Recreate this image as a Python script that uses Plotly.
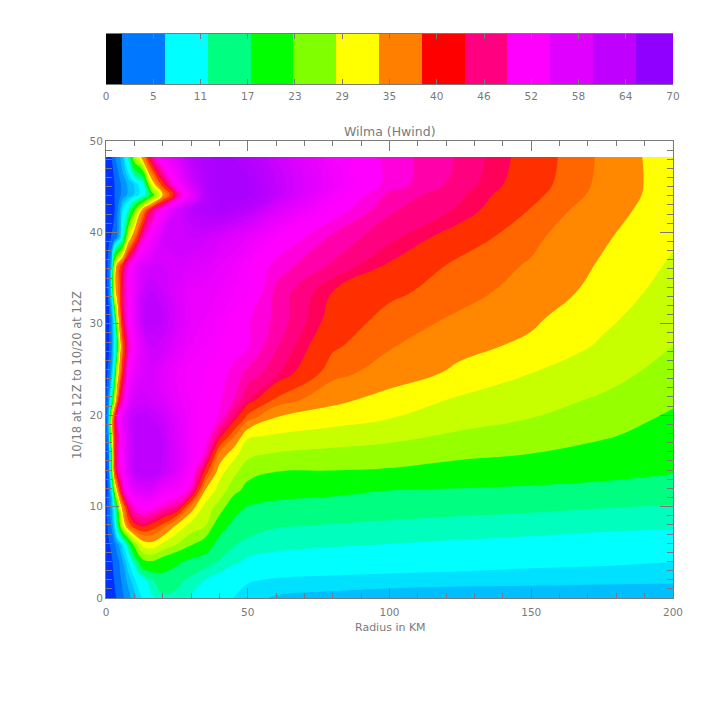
import plotly.graph_objects as go

# ---- data ----
radius = [0,1,2,3,4,5,6,8,10,13,16,20,25,30,35,40,45,50,60,80,100,125,150,175,200]
times = [0,1.97,3.94,5.91,7.88,9.85,11.8,13.8,15.8,17.7,19.7,21.7,24.6,27.6,30.5,33.5,36.4,39.4,42.4,44.1,45.3,48.25]

w00 = [2,2.3,2.7,3.2,3.7,4.3,5,6.3,8,11,13.5,15.2,15,13.8,12.6,11.5,10.5,9.4,8.5,8.1,7.9,7.8,7.8,7.7,7.7]
w02 = [2.2,2.6,3,3.6,4.2,5,5.8,7.8,10,13,15.5,17.3,16.5,15.2,14,13,12,10.8,10.2,9.8,9.5,9.3,9.2,9.1,9]
w04 = [2.5,2.9,3.3,4,4.7,5.6,7,10.5,15.5,23,24,22,20,18,16.7,15.5,14.4,13.6,13,12.6,12.3,11.8,11.2,10.9,10.5]
w06 = [2.8,3.3,3.9,5,6.3,8,10.5,18,26,33,34,31,28,25,22.5,17.5,16,15.1,14.7,14.3,14,13.7,13.4,13,12.8]
w08 = [3,4,5.5,9,16,24,31,39,43,44.5,43,40,34,30,28,21.5,18,17,15.9,15.6,15.3,15,14.8,14.5,14.3]
w10 = [3,4.5,7,12,21,31,37,46,50,52,51.5,49,46.5,36.5,30,26.5,21,18.8,18,17,16.7,16.4,16.1,15.8,15.4]
w12 = [3,4,9.5,25,35.5,43,48.5,54,56.5,58,58,55,54,49,35,30,26,23,21,20.5,19.3,18.8,18.3,17.8,17.3]
w14 = [3,4.5,19,40,47,50,53,58,61,62,62,60.5,57.5,53,43,33,29,26,24.5,24.3,24,23,22,20.8,19.5]
w16 = [3,5,20,41,48,51,54,59,61.5,62,62,61,58,54.5,50,38,33,29,27.8,27,26.4,25.3,24.5,23,20.9]
w18 = [3,7,30,42,47,51,55,59,61.5,62,62,61,57.5,54,52.5,45,39,32,31,30,29,27.3,26,24.9,22.9]
w20 = [3,8,31,43,50,54,56,60,61,61.5,61,60,57,54,52,50.5,45.3,40,34.8,33,31.6,29.5,28,26,24]
w22 = [3,6,15,28,39,46,49,57,59,59.5,59,58,55.5,54,52.5,51,49,45.5,40.5,36,33.6,31,29.5,27.5,25]
w25 = [3,4,7.5,15,31.5,38,44,53,56,58,58.5,57,55,53.5,53,52,50,48.5,46,39.5,37,34.2,31.5,29.5,26.5]
w28 = [3,3.2,5,11,19.5,33,41,49,54,58,60,59.5,57,55,54,53,52,51,47.5,41.5,38.8,36,34.3,31,28]
w31 = [3,3.2,6,12,30,39,45,52,56,61,62,61,58.5,56,55,54,52.5,51,48.5,43,40,38,35.6,32.3,29.1]
w34 = [3,4,10,33,37,41,47,52,56,60,61,60,58,56,55.5,55,54,53,48.5,44,41.7,39.5,37.3,33.7,30]
w37 = [3,4,8,28,37,40.5,44,50.5,55,58,59,59,58.5,58,57.5,56,55,53.5,50,47,43.7,40.3,38.2,34.6,31]
w40 = [3,3.3,3.6,4,6,9,15,32,39,49,54,59,60,60,59.5,58.5,57.2,56,53,48.5,46,42.5,39.2,35.5,32]
w43 = [2.5,2.8,3,3.4,5,7,10.5,15,24,37,46,53,59,62,63.5,64,63,62,58,52,47.5,45.2,40.8,36.5,33]
w45 = [2.5,2.7,3,3.5,4,5,6,7.5,9,12,21,35,47,56,62.5,65,65,64.5,61,54,48.5,45.8,41.8,37.5,33]
w46 = [2.5,2.7,3,3.5,4,5,6,7.5,9,12.5,31.5,43,53,59,63,65,65,64.5,61,55,50,46.5,42.4,37.8,33]
w49 = [2.5,3,3.5,5,6,7,8.5,15,28,36.5,47.5,55,58,62,63.5,64.5,64,63,60,54,50,47,42.8,38,32.7]
wind = [w00,w02,w04,w06,w08,w10,w12,w14,w16,w18,w20,w22,w25,w28,w31,w34,w37,w40,w43,w45,w46,w49]

band_edges = [0,1.75,3.5,5.25,7,8.75,10.5,14,15.75,19.25,24.5,28,31.5,35,38.5,41,44,45.5,47.25,49,
              50.75,53,54,55,56,57,58,59,60,61,62,63,64,65,70]
band_colors = ["rgb(0,0,255)","rgb(0,50,255)","rgb(0,110,255)","rgb(0,150,255)","rgb(0,190,255)",
               "rgb(0,225,255)","rgb(0,255,255)","rgb(0,255,190)","rgb(0,255,128)","rgb(0,255,0)",
               "rgb(150,255,0)","rgb(200,255,0)","rgb(255,255,0)","rgb(255,136,0)","rgb(255,102,0)",
               "rgb(255,48,0)","rgb(255,0,90)","rgb(255,0,128)","rgb(255,0,170)","rgb(255,0,220)",
               "rgb(255,0,255)","rgb(250,0,255)","rgb(245,0,255)","rgb(238,0,255)","rgb(232,0,255)",
               "rgb(225,0,255)","rgb(218,0,255)","rgb(210,0,255)","rgb(200,0,255)","rgb(192,0,255)",
               "rgb(185,0,255)","rgb(178,0,255)","rgb(172,0,255)","rgb(165,0,255)"]

bar_edges = [0,2,7.3,12.6,17.9,23.1,28.4,33.7,39,44.3,49.5,54.8,60.1,65.4,70]
bar_colors = ["rgb(0,0,0)","rgb(0,119,255)","rgb(0,255,255)","rgb(0,255,128)","rgb(0,255,0)",
              "rgb(128,255,0)","rgb(255,255,0)","rgb(255,128,0)","rgb(255,0,0)","rgb(255,0,128)",
              "rgb(255,0,255)","rgb(224,0,255)","rgb(192,0,255)","rgb(144,0,255)"]
bar_ticks = [0,5.83,11.67,17.5,23.33,29.17,35,40.83,46.67,52.5,58.33,64.17,70]
bar_labels = ["0","5","11","17","23","29","35","40","46","52","58","64","70"]

INK = "#7a7a7a"
FONT = dict(family="DejaVu Sans", size=10.5, color=INK)

def step_scale(edges, colors):
    top = edges[-1]
    out = []
    for lo, hi, c in zip(edges[:-1], edges[1:], colors):
        out += [[lo / top, c], [hi / top, c]]
    return out

fig = go.Figure()
fig.add_trace(go.Contour(
    x=radius, y=times, z=wind, zauto=False, zmin=0, zmax=70,
    autocontour=False,
    contours=dict(start=0, end=70, size=0.25, coloring="fill", showlines=False),
    line=dict(width=0, smoothing=1.3), colorscale=step_scale(band_edges, band_colors),
    showscale=False, hoverinfo="skip", connectgaps=False,
))
fig.add_trace(go.Heatmap(
    x=bar_edges, y=[0, 1], z=[list(range(len(bar_colors)))],
    zmin=0, zmax=len(bar_colors),
    colorscale=step_scale(list(range(len(bar_colors) + 1)), bar_colors),
    showscale=False, xaxis="x2", yaxis="y2", hoverinfo="skip",
))

W = 708
axis_common = dict(showgrid=False, zeroline=False, showline=True, linecolor=INK, linewidth=1,
                   mirror="ticks", ticks="inside", tickcolor=INK, tickwidth=1, tickfont=FONT)
fig.update_layout(
    width=W, height=W, margin=dict(l=0, r=0, t=0, b=0, autoexpand=False),
    paper_bgcolor="white", plot_bgcolor="white", showlegend=False,
    font=FONT,
    xaxis=dict(domain=[106/W, 673/W], range=[0, 200], tickvals=[0,50,100,150,200], ticklen=10,
               ticklabelstandoff=4,
               minor=dict(dtick=10, ticks="inside", ticklen=5, tickcolor=INK, tickwidth=1),
               anchor="y", **axis_common),
    yaxis=dict(domain=[(W-598)/W, (W-141)/W], range=[0, 50], tickvals=[0,10,20,30,40,50], ticklen=13,
               minor=dict(dtick=1, ticks="inside", ticklen=6, tickcolor=INK, tickwidth=1),
               anchor="x", **axis_common),
    xaxis2=dict(domain=[106/W, 673/W], range=[0, 70], tickvals=bar_ticks, ticktext=bar_labels,
                ticklen=5, ticklabelstandoff=2, anchor="y2", **axis_common),
    yaxis2=dict(domain=[(W-84)/W, (W-34)/W], range=[0, 1], showticklabels=False, ticks="",
                showgrid=False, zeroline=False, showline=False, anchor="x2"),
    annotations=[
        dict(text="Wilma (Hwind)", x=390/W, y=(W-131)/W, xref="paper", yref="paper",
             showarrow=False, xanchor="center", yanchor="middle",
             font=dict(family="DejaVu Sans", size=12.5, color=INK)),
        dict(text="Radius in KM", x=390/W, y=(W-627)/W, xref="paper", yref="paper",
             showarrow=False, xanchor="center", yanchor="middle",
             font=dict(family="DejaVu Sans", size=11, color=INK)),
        dict(text="10/18 at 12Z to 10/20 at 12Z", x=77/W, y=(W-375)/W, xref="paper", yref="paper",
             showarrow=False, xanchor="center", yanchor="middle", textangle=-90,
             font=dict(family="DejaVu Sans", size=11.5, color=INK)),
    ],
)
fig.write_html("out.html", config=dict(displayModeBar=False),
               post_script="document.body.style.margin='0';document.body.style.overflow='hidden';")
